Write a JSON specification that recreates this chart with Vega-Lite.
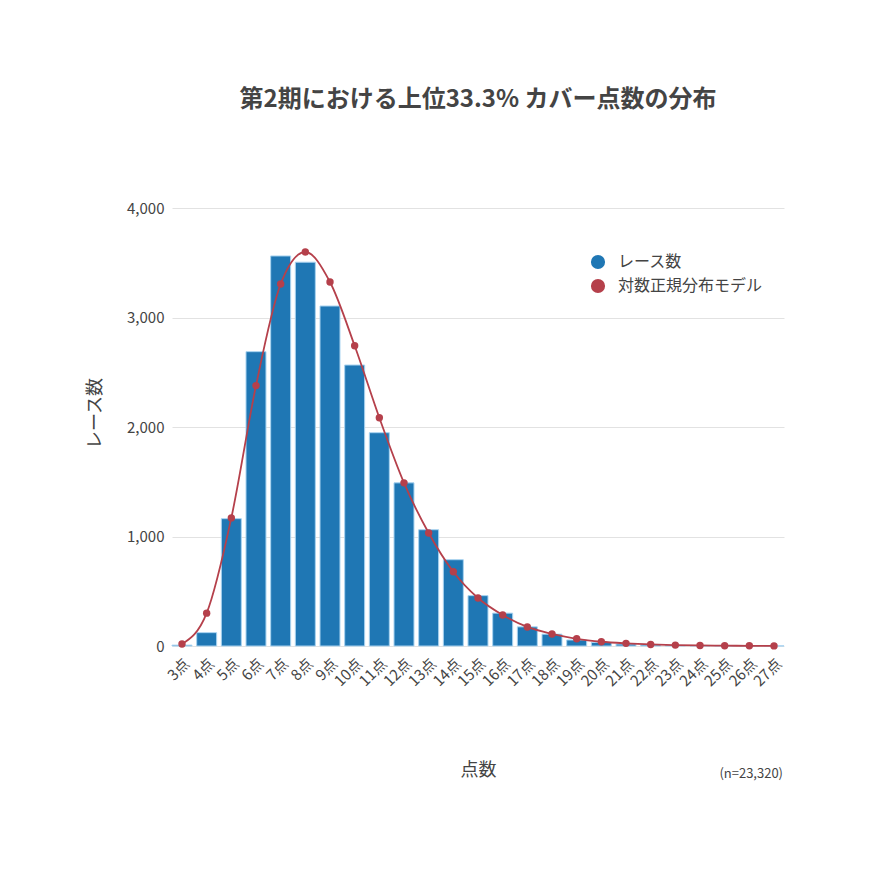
{
  "$schema": "https://vega.github.io/schema/vega-lite/v6.json",
  "autosize": {"type": "none"},
  "padding": {"left": 172, "top": 208, "right": 86, "bottom": 224},
  "width": 612,
  "height": 438,
  "background": "white",
  "title": {
    "text": "第2期における上位33.3% カバー点数の分布",
    "font": "Noto Sans CJK JP",
    "fontSize": 24,
    "fontWeight": "bold",
    "color": "#444444",
    "anchor": "middle",
    "offset": 89
  },
  "config": {
    "font": "Noto Sans CJK JP",
    "view": {"stroke": null},
    "axis": {"labelColor": "#444444", "titleColor": "#444444", "labelFontSize": 15, "titleFontSize": 18, "titleFontWeight": "normal"}
  },
  "data": {
    "values": [
      {"score": "3点", "races": 8, "model": 18},
      {"score": "4点", "races": 122, "model": 300},
      {"score": "5点", "races": 1163, "model": 1170},
      {"score": "6点", "races": 2688, "model": 2378},
      {"score": "7点", "races": 3562, "model": 3306},
      {"score": "8点", "races": 3505, "model": 3598},
      {"score": "9点", "races": 3105, "model": 3324},
      {"score": "10点", "races": 2566, "model": 2742},
      {"score": "11点", "races": 1948, "model": 2085},
      {"score": "12点", "races": 1490, "model": 1490},
      {"score": "13点", "races": 1062, "model": 1032},
      {"score": "14点", "races": 788, "model": 678},
      {"score": "15点", "races": 460, "model": 438},
      {"score": "16点", "races": 300, "model": 283},
      {"score": "17点", "races": 175, "model": 174},
      {"score": "18点", "races": 108, "model": 110},
      {"score": "19点", "races": 55, "model": 66},
      {"score": "20点", "races": 32, "model": 39},
      {"score": "21点", "races": 18, "model": 24},
      {"score": "22点", "races": 10, "model": 14},
      {"score": "23点", "races": 5, "model": 8},
      {"score": "24点", "races": 3, "model": 5},
      {"score": "25点", "races": 2, "model": 3},
      {"score": "26点", "races": 1, "model": 2},
      {"score": "27点", "races": 1, "model": 1}
    ]
  },
  "encoding": {
    "x": {
      "field": "score",
      "type": "ordinal",
      "sort": null,
      "scale": {"paddingInner": 0.19, "paddingOuter": 0},
      "axis": {
        "title": "点数",
        "labelAngle": -45,
        "ticks": false,
        "domain": false,
        "labelPadding": 10,
        "titleX": 306,
        "titleY": 124,
        "titleBaseline": "middle"
      }
    }
  },
  "layer": [
    {
      "mark": {"type": "bar", "stroke": "#a9d3f0", "strokeWidth": 1},
      "encoding": {
        "y": {
          "field": "races",
          "type": "quantitative",
          "scale": {"domain": [0, 4000]},
          "axis": {
            "title": "レース数",
            "values": [0, 1000, 2000, 3000, 4000],
            "format": ",d",
            "ticks": false,
            "domain": false,
            "labelPadding": 8,
            "gridColor": "#e2e2e2",
            "titleX": -77,
            "titleY": 205,
            "titleBaseline": "middle"
          }
        },
        "color": {
          "datum": "レース数",
          "type": "nominal",
          "scale": {"domain": ["レース数", "対数正規分布モデル"], "range": ["#1f77b4", "#b5404b"]},
          "legend": {
            "title": null,
            "orient": "none",
            "legendX": 418,
            "legendY": 46,
            "symbolType": "circle",
            "symbolSize": 200,
            "symbolStrokeWidth": 0,
            "labelFontSize": 16,
            "labelColor": "#444444",
            "labelOffset": 12,
            "rowPadding": 8
          }
        }
      }
    },
    {
      "mark": {"type": "line", "interpolate": "monotone", "strokeWidth": 1.8},
      "encoding": {
        "y": {"field": "model", "type": "quantitative"},
        "color": {"datum": "対数正規分布モデル", "type": "nominal"}
      }
    },
    {
      "mark": {"type": "point", "filled": true, "opacity": 1, "size": 55},
      "encoding": {
        "y": {"field": "model", "type": "quantitative"},
        "color": {"datum": "対数正規分布モデル", "type": "nominal"}
      }
    },
    {
      "data": {"values": [{"score": "27点", "y": -1170, "label": "(n=23,320)"}]},
      "mark": {"type": "text", "align": "right", "baseline": "middle", "dx": 9, "fontSize": 13, "color": "#444444", "clip": false},
      "encoding": {
        "y": {"field": "y", "type": "quantitative"},
        "text": {"field": "label"}
      }
    }
  ]
}
